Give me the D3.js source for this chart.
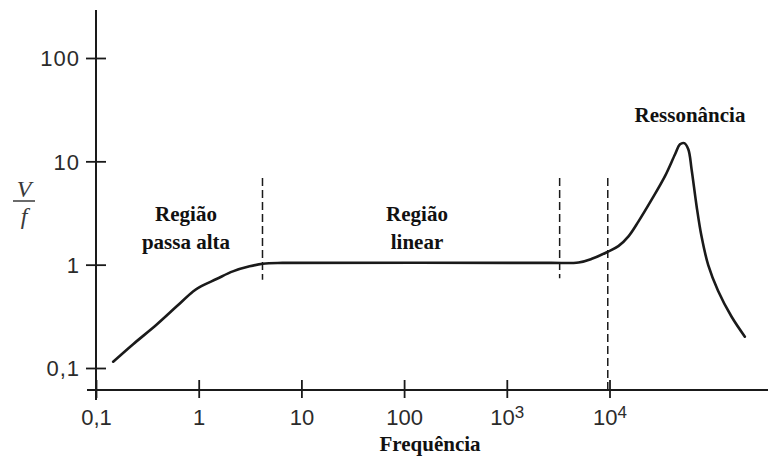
<!DOCTYPE html>
<html>
<head>
<meta charset="utf-8">
<script src="https://cdn.jsdelivr.net/npm/d3@7"></script>
<style>
  html, body { margin: 0; padding: 0; background: #ffffff; }
  svg { display: block; }
</style>
</head>
<body>
<svg id="chart" width="768" height="456"></svg>
<script>
// ---- data ----
const freq  = [0.147, 0.230, 0.388, 0.607, 0.881, 1.02, 1.49, 2.15, 3.13, 4.21, 6.55, 2560, 5000, 6730, 9420, 12200, 15300, 19100, 25800, 34700, 43500, 48600, 53400, 58500, 63000, 70500, 78700, 91500, 114000, 154000, 208000];
const ratio = [0.115, 0.170, 0.262, 0.393, 0.551, 0.607, 0.726, 0.861, 0.963, 1.02, 1.04, 1.04, 1.05, 1.14, 1.32, 1.51, 1.88, 2.61, 4.28, 7.19, 11.7, 14.6, 15.0, 13.1, 8.36, 3.68, 1.88, 0.99, 0.56, 0.315, 0.201];

const xTicks = [0.1, 1, 10, 100, 1000, 10000];
const xTickLabels = [["0,1"], ["1"], ["10"], ["100"], ["10", "3"], ["10", "4"]];
const yTicks = [0.1, 1, 10, 100];
const yTickLabels = ["0,1", "1", "10", "100"];

const dashFreq   = [4.18, 3270, 9620];
const dashTop    = [6.9, 6.9, 6.9];
const dashBottom = [0.715, 0.74, null]; // null = down to the axis

const regionLabels = [
  ["Região", "passa alta"],
  ["Região", "linear"],
  ["Ressonância"]
];
const xTitle = "Frequência";

// ---- layout ----
const svg = d3.select("#chart");
const x = d3.scaleLog().domain([0.1, 1e4]).range([96, 609.5]);
const y = d3.scaleLog().domain([0.1, 100]).range([368, 58]);
const axisY = 390;
const ink = "#1a1a1a";
const labelInk = "#2b2b2b";

// x axis
const gx = svg.append("g").attr("transform", `translate(0,${axisY})`)
  .call(d3.axisBottom(x).tickValues(xTicks).tickFormat("").tickSize(0));
gx.select(".domain").remove();
gx.append("line").attr("x1", 87).attr("x2", 768).attr("y1", 0).attr("y2", 0)
  .attr("stroke", ink).attr("stroke-width", 2);
gx.selectAll(".tick").each(function(d, i) {
  const t = d3.select(this);
  t.select("line").attr("y1", -10).attr("y2", 8).attr("stroke", ink).attr("stroke-width", 1.8);
  t.select("text").remove();
  const lab = xTickLabels[i];
  const txt = t.append("text")
    .attr("y", 35)
    .attr("text-anchor", "middle")
    .attr("font-family", "Liberation Sans, Arial, sans-serif")
    .attr("font-size", 22)
    .attr("fill", labelInk);
  txt.append("tspan").text(lab[0]);
  if (lab.length > 1) {
    txt.append("tspan").attr("dy", -7).attr("font-size", 17).text(lab[1]);
  }
});

// y axis
const gy = svg.append("g").attr("transform", "translate(96,0)")
  .call(d3.axisLeft(y).tickValues(yTicks).tickFormat("").tickSize(0));
gy.select(".domain").remove();
gy.append("line").attr("x1", 0).attr("x2", 0).attr("y1", 10).attr("y2", 400)
  .attr("stroke", ink).attr("stroke-width", 2);
gy.selectAll(".tick").each(function(d, i) {
  const t = d3.select(this);
  t.select("line").attr("x1", -10).attr("x2", 10).attr("stroke", ink).attr("stroke-width", 1.8);
  t.select("text").remove();
  t.append("text")
    .attr("x", -16)
    .attr("dy", "0.36em")
    .attr("text-anchor", "end")
    .attr("font-family", "Liberation Sans, Arial, sans-serif")
    .attr("font-size", 22)
    .attr("letter-spacing", 1)
    .attr("fill", labelInk)
    .text(yTickLabels[i]);
});

// V/f label
const yl = svg.append("g").attr("fill", "#3a3a3a")
  .attr("font-family", "Liberation Serif, Times New Roman, serif")
  .attr("font-style", "italic").attr("font-size", 24);
yl.append("text").attr("x", 24).attr("y", 197).attr("text-anchor", "middle").text("V");
yl.append("line").attr("x1", 13).attr("x2", 35).attr("y1", 201).attr("y2", 201)
  .attr("stroke", "#3a3a3a").attr("stroke-width", 1.5);
yl.append("text").attr("x", 24).attr("y", 224).attr("text-anchor", "middle").text("f");

// dashed lines
dashFreq.forEach((f, i) => {
  svg.append("line")
    .attr("x1", x(f)).attr("x2", x(f))
    .attr("y1", y(dashTop[i]))
    .attr("y2", dashBottom[i] === null ? axisY : y(dashBottom[i]))
    .attr("stroke", ink).attr("stroke-width", 1.5)
    .attr("stroke-dasharray", "8,4");
});

// curve
const pts = freq.map((f, i) => [x(f), y(ratio[i])]);
svg.append("path")
  .attr("d", d3.line().curve(d3.curveCatmullRom.alpha(0.5))(pts))
  .attr("fill", "none").attr("stroke", ink).attr("stroke-width", 2.6)
  .attr("stroke-linejoin", "round").attr("stroke-linecap", "round");

// region labels
const rl = svg.append("g")
  .attr("font-family", "Liberation Serif, Times New Roman, serif")
  .attr("font-weight", "bold").attr("font-size", 21).attr("fill", "#111")
  .attr("text-anchor", "middle");
const labelPos = [[186, 221], [417, 221], [690, 122]];
regionLabels.forEach((lines, i) => {
  const t = rl.append("text").attr("x", labelPos[i][0]).attr("y", labelPos[i][1]);
  lines.forEach((ln, j) => {
    t.append("tspan").attr("x", labelPos[i][0]).attr("dy", j === 0 ? 0 : 28).text(ln);
  });
});

// x title
svg.append("text").attr("x", 430).attr("y", 451)
  .attr("text-anchor", "middle")
  .attr("font-family", "Liberation Serif, Times New Roman, serif")
  .attr("font-weight", "bold").attr("font-size", 21).attr("fill", "#111")
  .text(xTitle);
</script>
</body>
</html>
